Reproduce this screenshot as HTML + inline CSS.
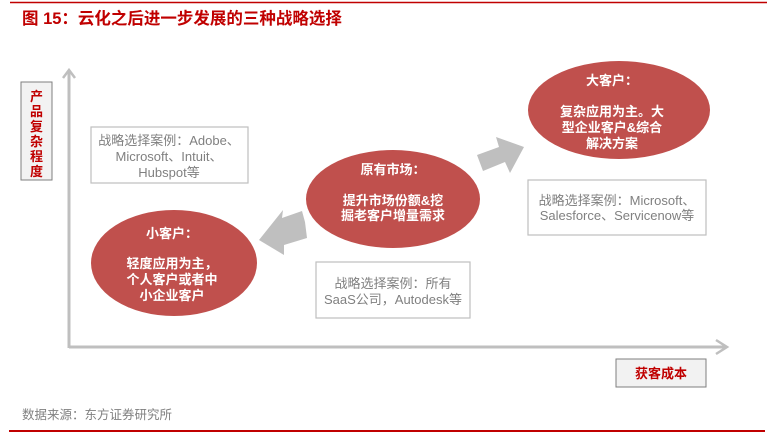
<!DOCTYPE html>
<html><head><meta charset="utf-8"><style>
html,body{margin:0;padding:0;background:#fff;}
svg{display:block;}
text{font-family:"Liberation Sans","Noto Sans CJK SC",sans-serif;}
</style></head><body>
<svg width="767" height="435" viewBox="0 0 767 435" xmlns="http://www.w3.org/2000/svg">
<line x1="10" y1="2.5" x2="767" y2="2.5" stroke="#c00000" stroke-width="1.5"/>
<text x="22" y="24" font-size="16.5" font-weight="bold" fill="#c00000">图 15：云化之后进一步发展的三种战略选择</text>
<polyline points="69,348 69,70" fill="none" stroke="#bfbfbf" stroke-width="3"/>
<polyline points="63,78 69,70 75,78" fill="none" stroke="#bfbfbf" stroke-width="2.5"/>
<polyline points="69,347 727,347" fill="none" stroke="#bfbfbf" stroke-width="3"/>
<polyline points="716,340 727,347 716,354" fill="none" stroke="#bfbfbf" stroke-width="2.5"/>
<rect x="21" y="82" width="31" height="98" fill="#f2f2f2" stroke="#7f7f7f" stroke-width="1"/>
<text x="36.5" y="101" font-size="13" font-weight="bold" fill="#c00000" text-anchor="middle">产</text>
<text x="36.5" y="116" font-size="13" font-weight="bold" fill="#c00000" text-anchor="middle">品</text>
<text x="36.5" y="131" font-size="13" font-weight="bold" fill="#c00000" text-anchor="middle">复</text>
<text x="36.5" y="146" font-size="13" font-weight="bold" fill="#c00000" text-anchor="middle">杂</text>
<text x="36.5" y="161" font-size="13" font-weight="bold" fill="#c00000" text-anchor="middle">程</text>
<text x="36.5" y="176" font-size="13" font-weight="bold" fill="#c00000" text-anchor="middle">度</text>
<rect x="616" y="359" width="90" height="28" fill="#f2f2f2" stroke="#7f7f7f" stroke-width="1"/>
<text x="661" y="378" font-size="13" font-weight="bold" fill="#c00000" text-anchor="middle">获客成本</text>
<rect x="91" y="127" width="157" height="56" fill="#fff" stroke="#bfbfbf" stroke-width="1.2"/>
<g font-size="13" fill="#808080" text-anchor="middle">
<text x="169" y="145">战略选择案例：Adobe、</text>
<text x="169" y="161">Microsoft、Intuit、</text>
<text x="169" y="177">Hubspot等</text>
</g>
<rect x="528" y="180" width="178" height="55" fill="#fff" stroke="#bfbfbf" stroke-width="1.2"/>
<g font-size="13" fill="#808080" text-anchor="middle">
<text x="617" y="205">战略选择案例：Microsoft、</text>
<text x="617" y="220">Salesforce、Servicenow等</text>
</g>
<rect x="316" y="262" width="154" height="56" fill="#fff" stroke="#bfbfbf" stroke-width="1.2"/>
<g font-size="13" fill="#808080" text-anchor="middle">
<text x="393" y="288">战略选择案例：所有</text>
<text x="393" y="304">SaaS公司，Autodesk等</text>
</g>
<polygon points="477,155 499,147 496,137 524,147 510,173 505,162 483,171" fill="#bfbfbf"/>
<polygon points="305,222 302,211 282,218 283,210 259,240 284,255 284,245 307,238" fill="#bfbfbf"/>
<ellipse cx="393" cy="199" rx="87" ry="49" fill="#c0504d"/>
<g font-size="13" font-weight="bold" fill="#fff" text-anchor="middle">
<text x="393" y="174">原有市场：</text>
<text x="393" y="205">提升市场份额&amp;挖</text>
<text x="393" y="220">掘老客户增量需求</text>
</g>
<ellipse cx="619" cy="110" rx="91" ry="49" fill="#c0504d"/>
<g font-size="13" font-weight="bold" fill="#fff" text-anchor="middle">
<text x="612" y="85">大客户：</text>
<text x="612" y="116">复杂应用为主。大</text>
<text x="612" y="132">型企业客户&amp;综合</text>
<text x="612" y="148">解决方案</text>
</g>
<ellipse cx="174" cy="263" rx="83" ry="53" fill="#c0504d"/>
<g font-size="13" font-weight="bold" fill="#fff" text-anchor="middle">
<text x="172" y="238">小客户：</text>
<text x="172" y="268">轻度应用为主，</text>
<text x="172" y="284">个人客户或者中</text>
<text x="172" y="300">小企业客户</text>
</g>
<text x="22" y="419" font-size="12.5" fill="#808080">数据来源：东方证券研究所</text>
<line x1="9" y1="431" x2="765" y2="431" stroke="#c00000" stroke-width="2"/>
</svg>
</body></html>
